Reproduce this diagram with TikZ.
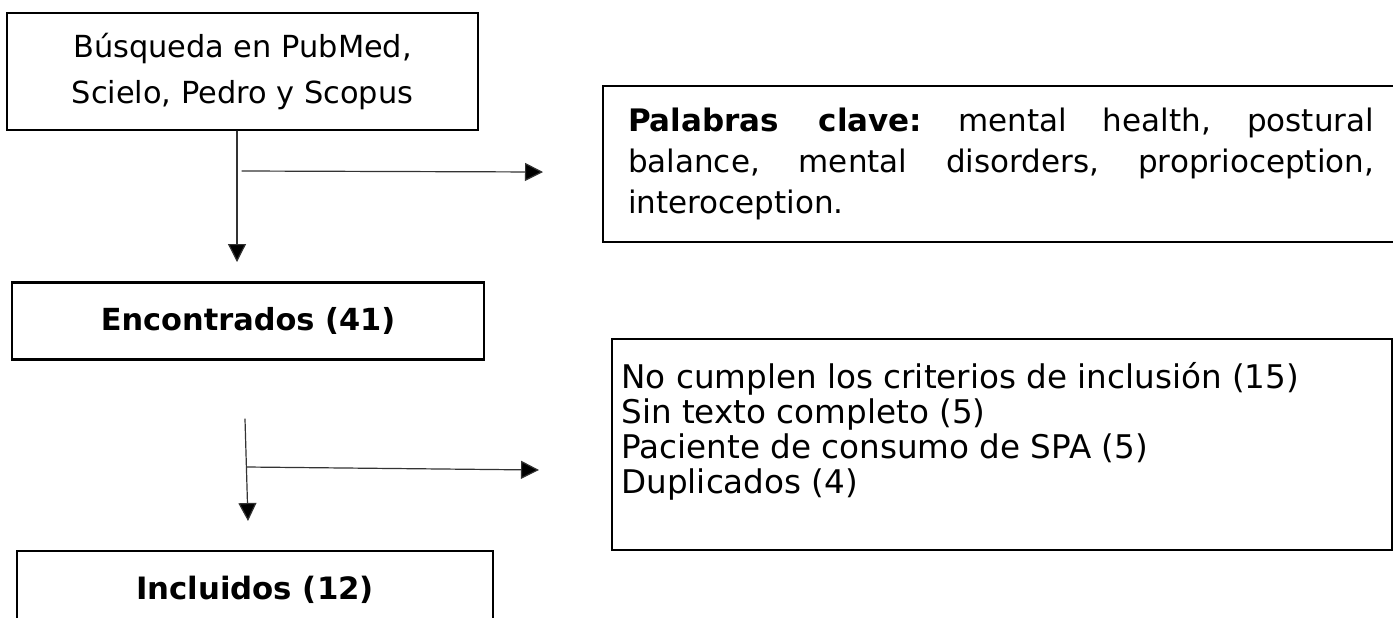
\documentclass[tikz,border=0pt]{standalone}
\usepackage{fontspec}
\setmainfont{DejaVu Sans}
\usetikzlibrary{arrows.meta, positioning}
\tolerance=10000 \hbadness=10000
\frenchspacing

\begin{document}
\begin{tikzpicture}[x=0.5pt, y=-0.5pt, line cap=round,
    box/.style={draw, line width=1.1pt, inner sep=0pt},
    arr/.style={draw=black!80, line width=0.6pt, -{Triangle[length=9pt, width=9pt, fill=black]}}]
\useasboundingbox (0,0) rectangle (1393,617);

\node[box, minimum width=235.5pt, minimum height=58.5pt, align=center, font=\fontsize{15.2}{23}\selectfont] (search) at (242.5,71.5) {Búsqueda en PubMed,\\Scielo, Pedro y Scopus};
\node[box, minimum width=236pt, minimum height=38.5pt, font=\bfseries\fontsize{15.2}{18}\selectfont] (found) at (248,321) {Encontrados (41)};
\node[box, minimum width=238pt, minimum height=38.5pt, font=\bfseries\fontsize{15.4}{18}\selectfont] (incl) at (255,589.5) {Incluidos (12)};

\node[box, text width=373pt, inner xsep=12.5pt, minimum height=78pt, align=justify, font=\fontsize{15.5}{20.5}\selectfont] (keys) at (1001,164) {\textbf{Palabras clave:} mental health, postural\linebreak balance, mental disorders, proprioception,\linebreak interoception.};
\node[box, minimum width=390pt, minimum height=105.5pt] (excl) at (1002,444.5) {};
\node[anchor=west, align=left, inner sep=0pt, font=\fontsize{16.3}{17.5}\selectfont] (excltext) at (621,431) {No cumplen los criterios de inclusión (15)\\Sin texto completo (5)\\Paciente de consumo de SPA (5)\\Duplicados (4)};

\coordinate (d1) at (237,262);
\coordinate (r1s) at (242,171); \coordinate (r1e) at (543,172);
\coordinate (d2s) at (245,419); \coordinate (d2e) at (248,521);
\coordinate (r2s) at (247,467); \coordinate (r2e) at (539,470);

\draw[arr] (search.south -| d1) -- (d1);
\draw[arr] (r1s) -- (r1e);
\draw[arr] (d2s) -- (d2e);
\draw[arr] (r2s) -- (r2e);
\end{tikzpicture}
\end{document}
